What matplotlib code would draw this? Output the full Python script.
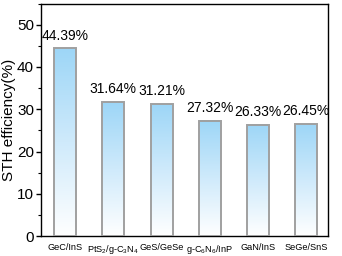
import numpy as np
import matplotlib.pyplot as plt
from matplotlib.colors import LinearSegmentedColormap
from matplotlib.ticker import MultipleLocator

plt.rcParams['font.family'] = ['Liberation Sans', 'DejaVu Sans']
plt.rcParams['mathtext.fontset'] = 'custom'
plt.rcParams['mathtext.rm'] = 'Liberation Sans'

materials = ['GeC/InS', r'PtS$_2$/g-C$_3$N$_4$', 'GeS/GeSe',
             r'g-C$_6$N$_6$/InP', 'GaN/InS', 'SeGe/SnS']
efficiency = [44.39, 31.64, 31.21, 27.32, 26.33, 26.45]
labels = ['44.39%', '31.64%', '31.21%', '27.32%', '26.33%', '26.45%']

cmap = LinearSegmentedColormap.from_list('fade', ['#ffffff', '#cfeafb', '#9dd6f7'])
grad = np.linspace(0, 1, 256).reshape(-1, 1)

fig = plt.figure(figsize=(3.42, 2.56), dpi=100)
ax = fig.add_axes([0.12, 0.078, 0.839, 0.908])

x = np.arange(len(materials))
w = 0.455
bars = ax.bar(x, efficiency, width=w, color='none', edgecolor='#a0a0a0', linewidth=1.4, zorder=3)
for b in bars:
    x0, h = b.get_x(), b.get_height()
    ax.imshow(grad, extent=[x0, x0 + w, 0, h], origin='lower', cmap=cmap,
              aspect='auto', zorder=2)

# value labels above the bars
for xi, v, lab in zip(x, efficiency, labels):
    ax.text(xi, v + 1.4, lab, ha='center', va='bottom', fontsize=10)

ax.set_xlim(-0.5, 5.45)
ax.set_ylim(0, 55)
ax.set_xticks(x)
ax.set_xticklabels(materials, fontsize=6.6)
ax.tick_params(axis='x', length=0, pad=5)
ax.yaxis.set_major_locator(MultipleLocator(10))
ax.yaxis.set_minor_locator(MultipleLocator(5))
ax.tick_params(axis='y', which='major', length=3.5, width=1, labelsize=11, pad=1.5)
ax.tick_params(axis='y', which='minor', length=2, width=0.8)
ax.set_ylabel('STH efficiency(%)', fontsize=11, labelpad=1)
for s in ax.spines.values():
    s.set_linewidth(1.0)

fig.savefig('out.png', dpi=100)
